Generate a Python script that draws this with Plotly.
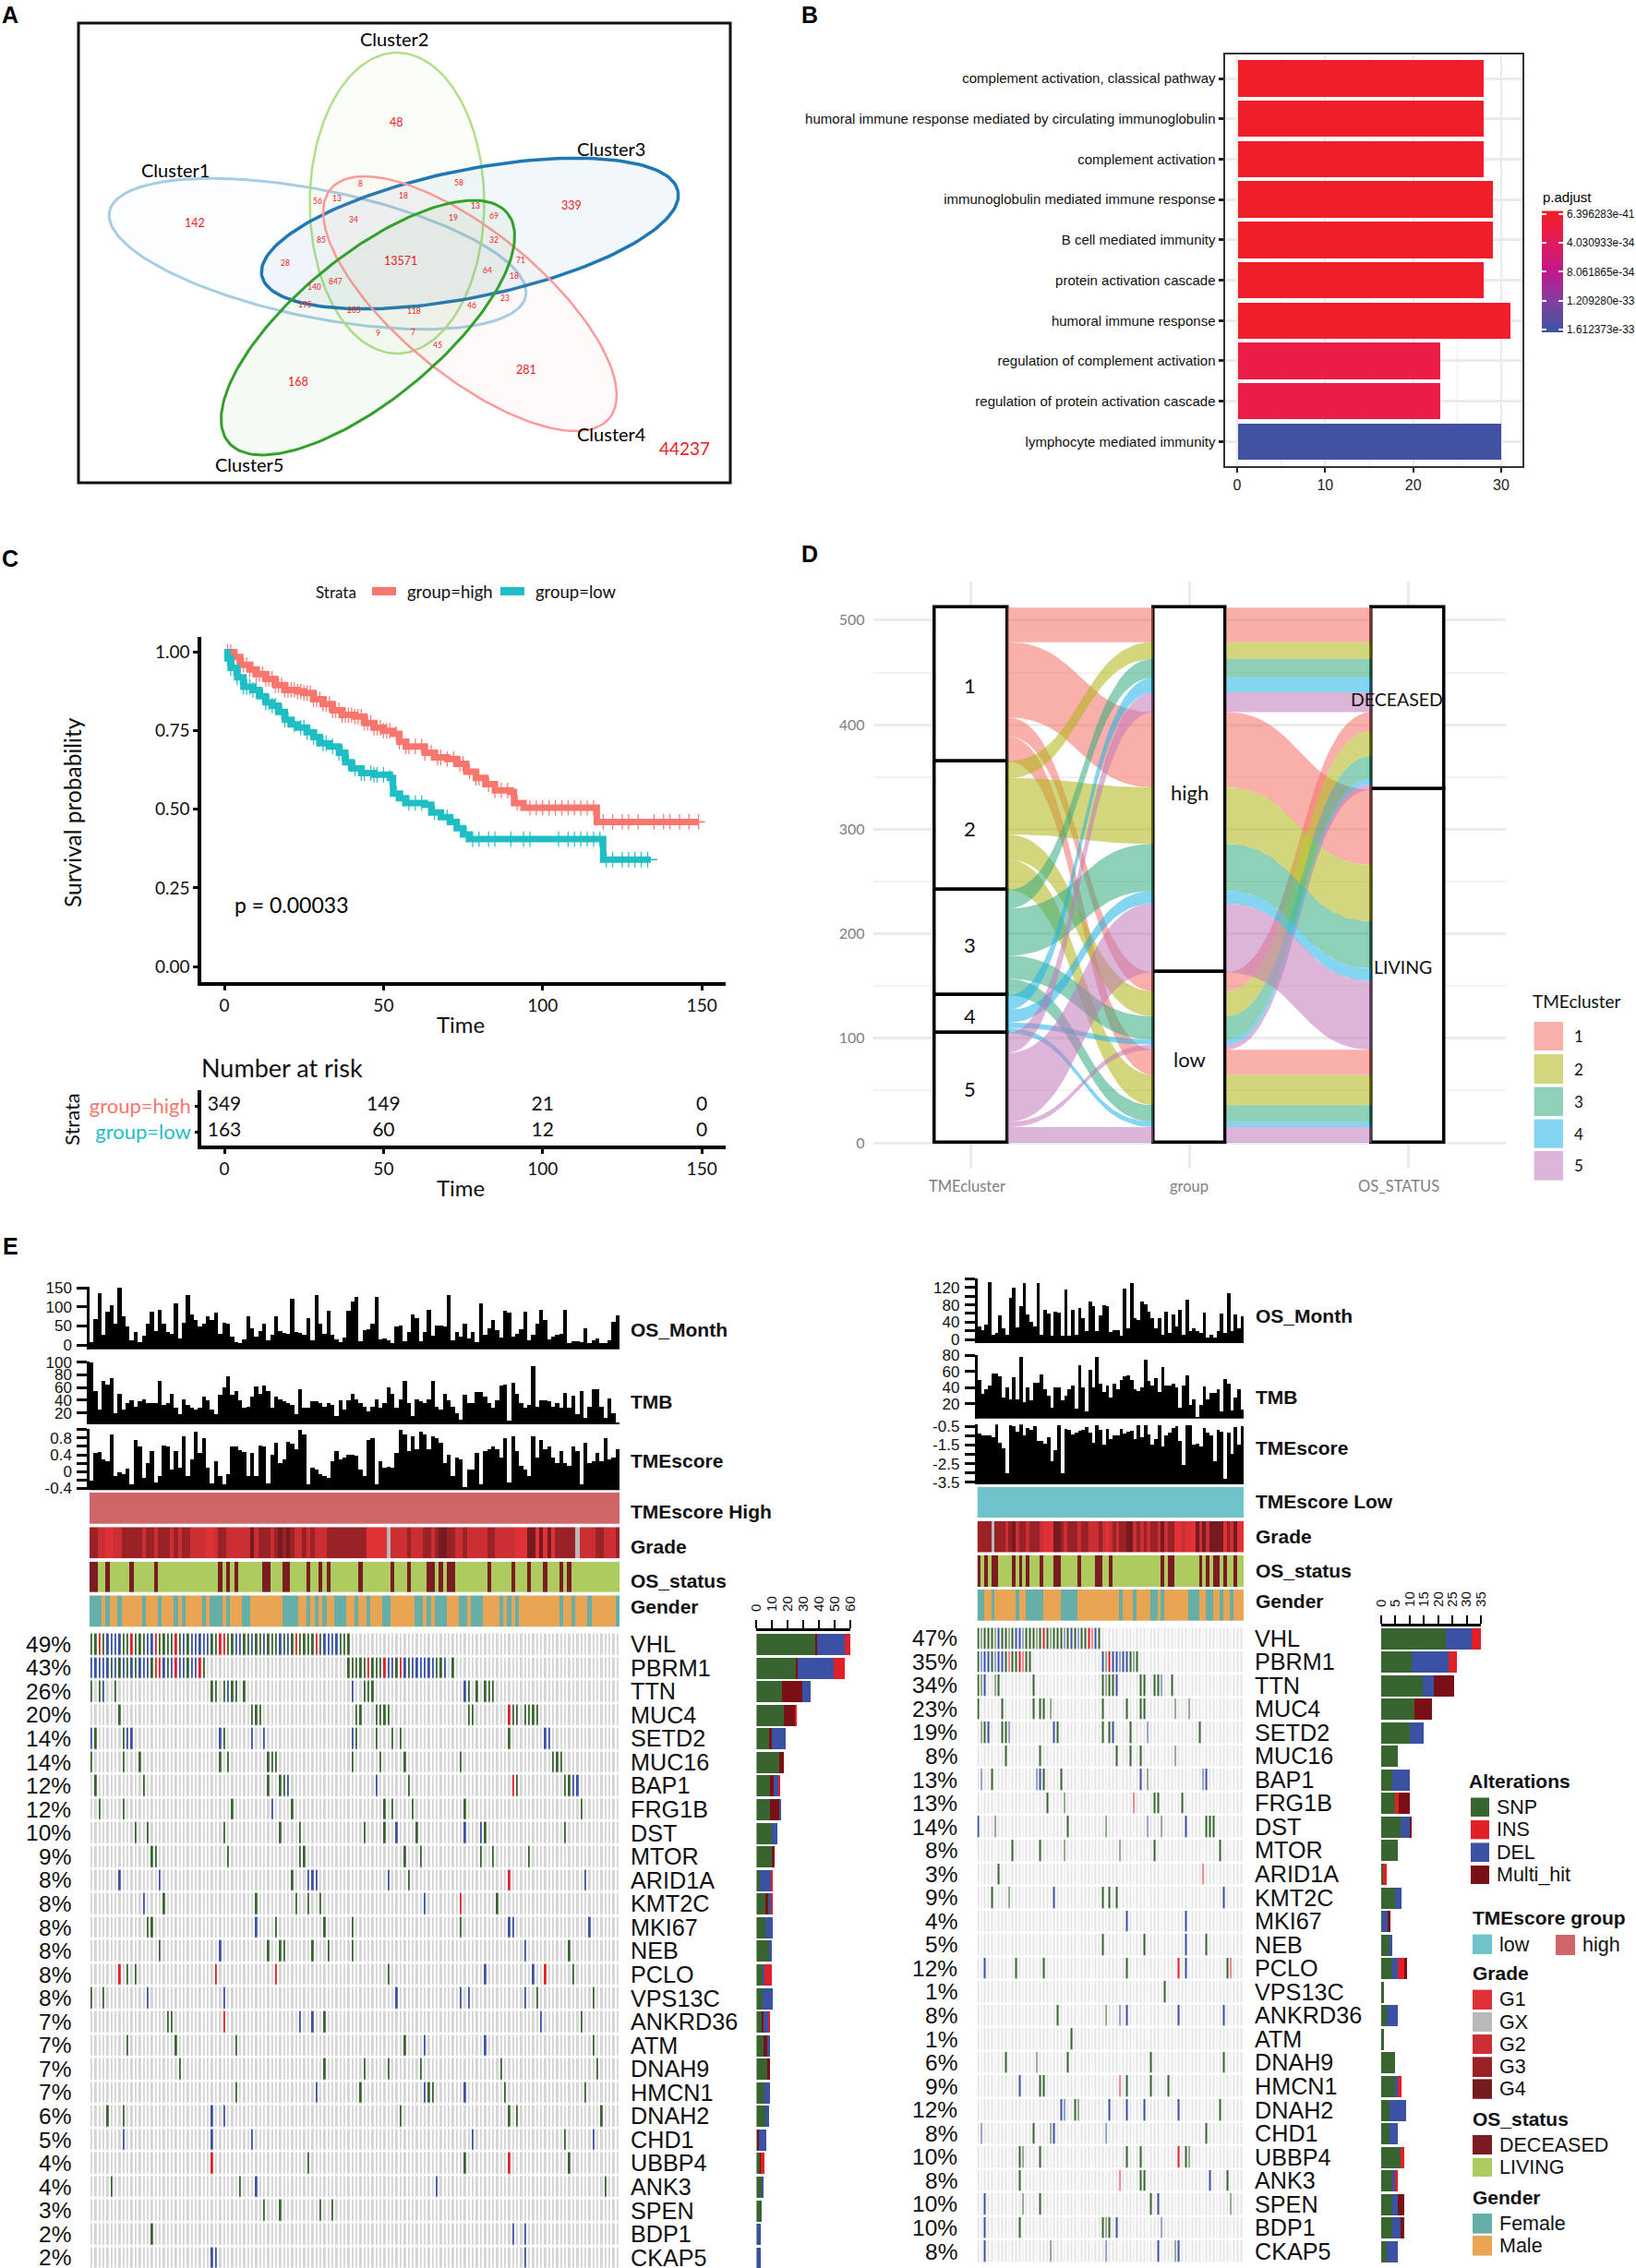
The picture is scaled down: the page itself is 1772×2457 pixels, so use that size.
import math
import plotly.graph_objects as go

W, H = 1772, 2457
ARIAL = "Liberation Sans"
MYR = "Lato"

# ---------------- panel A data
venn_names = ["Cluster1", "Cluster2", "Cluster3", "Cluster4", "Cluster5"]
venn_colors = ["166,206,227", "178,223,138", "31,120,180", "251,154,153", "51,160,44"]
venn_big = ["48", "339", "142", "13571", "281", "168"]
venn_small = ["8", "58", "56", "13", "18", "13", "34", "19", "69", "85", "32", "28", "71", "64", "18",
              "847", "140", "195", "23", "205", "118", "46", "9", "7", "45"]
venn_outside = "44237"

# ---------------- panel B data
go_terms = ["complement activation, classical pathway",
            "humoral immune response mediated by circulating immunoglobulin",
            "complement activation", "immunoglobulin mediated immune response",
            "B cell mediated immunity", "protein activation cascade", "humoral immune response",
            "regulation of complement activation", "regulation of protein activation cascade",
            "lymphocyte mediated immunity"]
go_counts = [28, 28, 28, 29, 29, 28, 31, 23, 23, 30]
go_padj = [6.4e-41, 2e-38, 4e-38, 1e-37, 3e-37, 8e-36, 1e-36, 2.2e-34, 2.2e-34, 1.612373e-33]
padj_ticks = [6.396283e-41, 4.030933e-34, 8.061865e-34, 1.209280e-33, 1.612373e-33]
padj_labels = ["6.396283e-41", "4.030933e-34", "8.061865e-34", "1.209280e-33", "1.612373e-33"]

# ---------------- panel C data
km_high_t = [0, 3, 5, 8, 10, 13, 16, 19, 23, 25, 28, 31, 34, 37, 41, 44, 47, 50, 53, 55, 57, 61, 63, 66, 70, 73, 76, 79,
             82, 85, 90, 91, 94, 117, 149, 151]
km_high_s = [1, .985, .96, .945, .93, .915, .895, .88, .875, .87, .85, .835, .815, .8, .795, .775, .76, .75, .74, .715,
             .7, .7, .68, .665, .66, .645, .62, .6, .58, .56, .555, .52, .505, .46, .46, .46]
km_low_t = [0, 1, 2, 4, 6, 9, 11, 13, 15, 17, 19, 21, 23, 26, 28, 30, 33, 36, 38, 40, 43, 47, 52, 53, 55, 57, 63, 65, 68,
            71, 73, 75, 77, 119, 134, 136]
km_low_s = [1, .98, .95, .92, .89, .88, .86, .84, .83, .81, .785, .77, .76, .745, .73, .71, .7, .68, .65, .63, .615,
            .61, .6, .55, .535, .52, .515, .49, .475, .46, .44, .42, .405, .34, .34, .34]
cens_high = [1, 2, 3, 4, 5, 6, 7, 8, 9, 10, 11, 12, 13, 14, 15, 16, 17, 18, 19, 20, 21, 22, 23, 24, 25, 26, 27, 28, 29,
             30, 31, 32, 33, 34, 35, 36, 37, 38, 39, 40, 41, 42, 43, 44, 45, 46, 47, 48, 49, 50, 51, 52, 54, 55, 57, 58,
             60, 62, 63, 65, 67, 68, 70, 72, 74, 75, 77, 79, 80, 83, 85, 87, 89, 92, 96, 98, 100, 102, 104, 106, 108,
             110, 112, 114, 116, 119, 122, 125, 127, 130, 135, 138, 140, 143, 146, 149]
cens_low = [1, 2, 3, 4, 5, 6, 7, 8, 9, 10, 12, 13, 14, 15, 16, 18, 19, 20, 22, 24, 25, 26, 28, 29, 31, 32, 34, 36, 37, 39,
            41, 43, 44, 46, 47, 48, 50, 52, 54, 56, 58, 60, 62, 66, 70, 76, 78, 80, 83, 85, 90, 94, 96, 105, 108, 110,
            112, 114, 116, 118, 120, 122, 125, 127, 129, 131, 133]
risk_times = [0, 50, 100, 150]
risk_high = ["349", "149", "21", "0"]
risk_low = ["163", "60", "12", "0"]

# ---------------- panel D data (clusters 1..5)
alluv_high_dec = [33, 16, 18, 14, 19]
alluv_high_liv = [72, 54, 45, 12, 66]
alluv_low_dec = [18, 24, 22, 5, 5]
alluv_low_liv = [24, 29, 16, 5, 15]

# ---------------- panel E data
genes_left = ["VHL", "PBRM1", "TTN", "MUC4", "SETD2", "MUC16", "BAP1", "FRG1B", "DST", "MTOR", "ARID1A", "KMT2C", "MKI67",
              "NEB", "PCLO", "VPS13C", "ANKRD36", "ATM", "DNAH9", "HMCN1", "DNAH2", "CHD1", "UBBP4", "ANK3", "SPEN",
              "BDP1", "CKAP5"]
pct_left = [49, 43, 26, 20, 14, 14, 12, 12, 10, 9, 8, 8, 8, 8, 8, 8, 7, 7, 7, 7, 6, 5, 4, 4, 3, 2, 2]
pct_right = [47, 35, 34, 23, 19, 8, 13, 13, 14, 8, 3, 9, 4, 5, 12, 1, 8, 1, 6, 9, 12, 8, 10, 8, 10, 10, 8]

os_left = [8, 68, 135, 28, 88, 105, 55, 150, 75, 48,
           12, 35, 8, 25, 55, 88, 38, 92, 55, 35,
           30, 110, 18, 58, 130, 80, 65, 48, 55, 75,
           65, 85, 30, 58, 55, 22, 8, 5, 14, 75,
           45, 22, 38, 55, 12, 28, 75, 38, 32, 30,
           120, 35, 32, 28, 70, 12, 130, 55, 30, 90,
           28, 15, 8, 20, 90, 115, 125, 10, 40, 42,
           55, 125, 15, 18, 12, 5, 50, 52, 10, 35,
           80, 70, 10, 35, 92, 25, 52, 52, 48, 130,
           12, 35, 22, 55, 18, 35, 8, 108, 28, 45,
           65, 40, 20, 90, 85, 22, 30, 42, 88, 12,
           28, 55, 92, 65, 15, 22, 28, 30, 93, 5,
           10, 10, 8, 45, 6, 12, 18, 5, 5, 12,
           62, 78]
tmb_left = [100, 55, 25, 70, 65, 75, 20, 50, 25, 35,
            40, 30, 38, 42, 35, 35, 35, 70, 32, 35,
            50, 28, 18, 42, 32, 28, 26, 28, 45, 40,
            25, 18, 48, 60, 78, 48, 55, 40, 28, 30,
            45, 62, 50, 63, 55, 28, 45, 42, 38, 35,
            32, 18, 58, 28, 28, 38, 38, 36, 30, 35,
            32, 15, 40, 25, 40, 50, 42, 35, 30, 22,
            30, 42, 28, 35, 60, 50, 28, 42, 70, 35,
            15, 42, 38, 35, 42, 70, 30, 25, 50, 40,
            30, 20, 10, 48, 35, 35, 53, 53, 45, 35,
            28, 40, 63, 65, 8, 67, 50, 35, 28, 32,
            93, 30, 40, 40, 38, 30, 35, 28, 52, 28,
            47, 18, 55, 12, 30, 58, 57, 30, 12, 43,
            20, 5]
score_left = [-.2, .45, .47, .3, .25, .9, -.1, -.02, -.05, .08,
              -.3, .75, .6, -.15, .2, .5, -.25, -.1, .62, .6,
              .05, .5, .1, .85, -.1, .3, .95, .45, .8, .1,
              -.28, .25, -.1, -.3, -.05, .6, .6, .52, .48, -.1,
              .45, -.1, .62, .6, -.28, .4, .7, .2, .3, .72,
              .68, .55, 1.0, .9, -.3, .1, .05, -.05, -.1, -.15,
              .25, .5, .3, .35, .4, .4, .38, .05, -.1, .75,
              .8, -.3, .25, .1, .12, .1, .45, 1.0, .9, .5,
              .85, .55, .95, .9, .55, .85, .8, .7, .2, .4,
              -.1, .35, .3, -.35, .05, .05, .45, -.3, .5, .55,
              .6, .55, .35, .8, -.25, .85, .5, .15, .05, -.1,
              .85, .35, .75, .55, .6, .35, .2, .5, .2, .15,
              .6, .5, -.3, .7, .2, .25, .45, .25, .8, .3,
              .35, .55]
os_right = [30, 22, 35, 133, 10, 15, 55, 25, 10, 97,
            120, 27, 78, 130, 58, 40, 30, 130, 10, 68,
            60, 8, 65, 63, 8, 115, 8, 68, 10, 72,
            50, 20, 88, 78, 20, 55, 80, 78, 18, 22,
            22, 8, 118, 25, 130, 50, 45, 87, 82, 65,
            50, 25, 50, 10, 65, 15, 58, 30, 68, 10,
            93, 20, 25, 20, 15, 62, 5, 10, 5, 20,
            60, 15, 107, 20, 57, 25, 53]
tmb_right = [50, 32, 38, 42, 58, 58, 54, 28, 40, 25,
             53, 25, 78, 22, 40, 24, 46, 46, 56, 38,
             30, 15, 40, 40, 24, 30, 38, 42, 14, 68,
             40, 10, 62, 40, 78, 45, 35, 42, 28, 45,
             38, 50, 54, 55, 50, 38, 36, 40, 75, 48,
             42, 52, 35, 65, 42, 42, 45, 40, 15, 42,
             55, 18, 25, 3, 18, 41, 25, 33, 33, 38,
             10, 51, 45, 12, 28, 38, 13]
score_right = [-.9, -1, -1, -1, -1.1, -.4, -1.4, -1.7, -3.0, -.45,
               -.5, -.8, -.4, -1, -.6, -.7, -.5, -1.3, -1.3, -1.45,
               -1.1, -2.4, -1.8, -.45, -3.0, -.65, -.7, -.95, -.85, -.75,
               -.7, -.55, -.85, -1.4, -.45, -.7, -1.5, -.65, -1.2, -1,
               -1, -.65, -.9, -.8, -.75, -1.2, -.45, -1.1, -.45, -.95,
               -1.5, -1.2, -.45, -1.6, -1, -.85, -.6, -.5, -1.3, -2.6,
               -.45, -.45, -1.5, -1.45, -1.6, -.6, -.85, -1, -2.4, -.7,
               -.8, -3.3, -.85, -2, -.55, -1.5, -.5]

grade_left = [3, 3, 2, 2, 1, 1, 2, 2, 3, 3,
              3, 3, 3, 2, 3, 3, 2, 3, 3, 3,
              2, 3, 2, 3, 3, 2, 2, 2, 2, 1,
              1, 2, 3, 3, 2, 2, 2, 2, 2, 2,
              4, 2, 3, 3, 3, 2, 3, 4, 3, 4,
              3, 2, 2, 3, 2, 3, 2, 2, 2, 3,
              3, 3, 3, 3, 3, 3, 3, 3, 3, 1,
              1, 1, 1, 1, 0, 2, 2, 2, 2, 3,
              2, 2, 2, 3, 3, 2, 3, 4, 4, 3,
              3, 2, 2, 3, 2, 2, 2, 2, 2, 3,
              3, 2, 2, 2, 2, 2, 1, 1, 1, 4,
              4, 1, 4, 1, 4, 1, 3, 3, 3, 3,
              3, 0, 2, 2, 2, 2, 3, 3, 2, 2,
              2, 3]
grade_right = [3, 3, 3, 3, 0, 3, 3, 3, 2, 3,
               4, 2, 3, 3, 2, 3, 3, 3, 2, 1,
               1, 1, 4, 4, 3, 2, 3, 3, 3, 2,
               3, 3, 2, 2, 2, 3, 2, 1, 2, 3,
               2, 3, 3, 4, 4, 2, 3, 2, 3, 2,
               3, 3, 2, 4, 2, 3, 3, 1, 1, 2,
               1, 1, 1, 4, 2, 4, 2, 4, 4, 4,
               4, 1, 3, 2, 4, 1, 1]
deceased_left = [0, 1, 4, 10, 16, 32, 34, 36, 43, 44, 48, 49, 54, 57, 59, 67, 75, 79, 84, 85, 87, 89, 90, 99, 105, 109, 113,
                 117, 119]
deceased_right = [0, 2, 4, 5, 10, 12, 14, 18, 22, 23, 29, 34, 35, 38, 53, 55, 56, 64, 66, 68, 69, 71, 74]
female_left = [0, 1, 2, 4, 7, 13, 17, 21, 23, 28, 30, 31, 32, 34, 38, 39, 48, 49, 50, 51, 54, 56, 58, 61, 62, 63, 66, 69,
               73, 74, 81, 82, 84, 86, 87, 88, 92, 93, 95, 96, 97, 102, 104, 106, 117, 120, 124, 131]
female_right = [0, 1, 4, 11, 14, 15, 16, 17, 18, 24, 25, 26, 27, 28, 41, 45, 50, 51, 53, 61, 62, 63, 66, 67, 70, 73]

# mutated samples per gene: one list per gene, in gene order
del_left = [[4, 5, 6, 7, 14, 15, 23, 25, 26, 27, 28, 29, 36, 37, 40, 43, 47, 49, 58, 59, 60, 61],
            [0, 1, 2, 3, 4, 6, 8, 10, 12, 13, 14, 18, 20, 22, 23, 25, 26, 74, 75, 78, 80, 81, 82, 83, 84, 85, 88],
            [3, 34, 65, 93], [], [0, 9, 10, 32, 40, 43, 65, 113, 114], [], [49, 71, 120, 121], [45], [76, 93, 97],
            [], [7, 17, 54, 55, 56, 74, 123], [13, 83], [41, 104, 105, 124], [32, 108], [98, 110],
            [14, 33, 76, 92, 94, 108], [52, 55, 112], [83, 98], [], [56, 83, 93], [30, 33], [8, 30, 40, 95, 125], [],
            [41, 86], [], [105, 108], [30, 31, 108]]
ins_left = [[2, 10, 16, 21, 32, 33, 51, 56], [16, 17, 21, 27, 69, 73, 77], [], [104], [], [], [105], [], [], [], [104],
            [92], [], [], [7, 31, 46, 113], [], [33], [], [], [], [], [], [30, 104], [], [], [], []]
snp_left = [[0, 1, 3, 8, 9, 11, 12, 13, 17, 18, 19, 20, 22, 24, 30, 31, 34, 35, 38, 39, 41, 42, 44, 45, 46, 48, 50, 52, 53,
             54, 55, 57, 62, 63, 64],
            [5, 7, 9, 11, 15, 19, 24, 28, 64, 65, 66, 67, 68, 70, 71, 72, 76, 79, 86, 87, 90],
            [0, 2, 6, 30, 31, 33, 35, 36, 38, 68, 69, 70, 94, 96, 98, 99, 100],
            [7, 40, 41, 42, 66, 67, 71, 72, 73, 74, 94, 95, 105, 106, 108, 109, 110, 111],
            [1, 8, 33, 66, 71, 75, 77, 104], [0, 8, 12, 32, 34, 44, 45, 46, 65, 72, 78, 92, 115, 116, 117],
            [1, 13, 44, 47, 48, 79, 106, 118, 119], [2, 8, 35, 50, 73, 75, 80, 93, 122],
            [11, 14, 33, 47, 52, 68, 73, 81, 98, 118], [15, 16, 34, 52, 53, 78, 82, 97, 100, 109],
            [50, 79], [18, 41, 51, 54, 57, 101], [14, 15, 46, 58, 65, 92], [17, 44, 47, 48, 55, 59, 65, 119],
            [9, 11, 74, 120], [0, 3, 111, 125], [19, 20, 58, 122], [9, 21, 36, 78, 125],
            [22, 58, 68, 74, 82, 102, 126], [36, 67, 84, 85, 103, 123], [4, 8, 77, 104, 106, 127], [118],
            [54, 93, 119], [5, 37, 128], [43, 47, 57, 60], [15], []]
del_right = [[6, 11, 12, 13, 25, 27, 29, 34], [1, 2, 3, 5, 6, 7, 36, 39, 40, 41, 42, 43], [2, 40, 53], [],
             [3, 9, 22, 39, 49], [], [1, 17, 18, 47, 65, 66], [], [0, 49, 60], [], [], [22, 71], [43, 60], [60],
             [2, 60], [], [41, 43, 58, 71], [], [], [12], [24, 25, 38, 43, 48, 58], [1, 22, 37], [], [67],
             [2, 52], [2, 40, 53], [2, 37, 52, 58]]
ins_right = [[19, 32, 33], [9, 12, 13, 38], [], [], [], [], [], [45], [], [], [65], [], [], [], [58, 73], [], [], [],
             [], [41], [], [], [58], [41], [], [], []]
snp_right = [[0, 1, 2, 3, 4, 5, 7, 8, 9, 10, 14, 15, 16, 17, 18, 20, 21, 22, 23, 24, 26, 28, 30, 31, 35],
             [0, 4, 8, 10, 11, 14, 15, 37, 44, 45, 46],
             [0, 1, 5, 6, 16, 36, 37, 38, 39, 47, 48, 51, 52, 56],
             [0, 7, 16, 18, 19, 21, 36, 43, 47, 48, 57, 61],
             [1, 2, 7, 8, 23, 36, 38, 44, 64], [8, 18, 40, 44, 47, 57], [4, 19, 24, 49],
             [20, 25, 51, 52, 59], [5, 26, 37, 53, 66, 67, 68], [10, 18, 25, 41, 51, 70], [6],
             [4, 9, 36, 38, 40], [], [36, 48, 66], [11, 19, 43, 72], [54], [23, 37], [27],
             [8, 17, 26, 50, 71], [18, 19, 43, 50, 55], [28, 29, 70], [16, 21, 66],
             [12, 13, 18, 43, 47, 60, 61], [12, 47, 48, 72], [13, 18, 50, 73], [12, 36, 37, 38], [21, 57]]

# side bars: mutation counts per gene by type
bar_snp_left = [38, 25.7, 16.5, 18, 8, 15, 9, 9, 10, 10, 2.5, 6, 6, 8, 4, 4, 4, 5, 7, 5.5, 6, .5, 2.5, 3.5, 3.5, .3, 0]
bar_multi_left = [1, 1, 13, 7, 2, 3, 2, 6, 0, 2, 0, 1.5, 0, 0, 0, 0, .7, 2, 2, 0, 0, 1.2, .7, 0, 0, 0, 0]
bar_del_left = [17.5, 23, 5.5, 0, 9, 0, 3.5, 1, 3.5, 0, 7, 2, 4.5, 2, 1.5, 6.5, 3, 2, 0, 3.5, 2, 5, 0, 1.5, 0, 2.7, 3]
bar_ins_left = [8, 7, 0, .8, 0, 0, 1, 0, 0, 0, 1, 1, 0, 0, 4.5, 0, .8, 0, 0, 0, 0, 0, 2, 0, 0, 0, 0]
bar_snp_right = [22.8, 10.7, 14.6, 11.7, 9.9, 5.9, 3.9, 4.8, 6.8, 5.9, .5, 4.8, .2, 2.9, 3.9, 1, 1.9, 1, 4.9, 4.8, 2.9,
                 2.9, 6.8, 3.9, 3.9, 3.9, 1.9]
bar_del_right = [8.8, 13, 4, 0, 4.9, 0, 6, 0, 3.2, 0, 0, 2.2, 2, 1, 1.9, 0, 4, 0, 0, 1, 6, 3, 0, 1, 1.9, 2.9, 4]
bar_ins_right = [3.4, 2.9, 0, 0, 0, 0, 0, 1.2, 0, 0, 1.5, 0, 0, 0, 2.2, 0, 0, 0, 0, 1.2, 0, 0, 1.2, 1, 0, 0, 0]
bar_multi_right = [.7, 0, 7, 6, 0, 0, 0, 4, .8, 0, 0, 0, 1, 0, 1, 0, 0, 0, 0, 0, 0, 0, 0, 0, 2.2, 1.2, 0]

# ---------------- colours
C_SNP, C_INS, C_DEL, C_MULTI = "#386430", "#e11f26", "#3b51a3", "#7a1015"
C_LOW, C_HIGH = "#6fc3cb", "#cf6567"
GRADE_COL = ["#b9b9b9", "#e03136", "#cc2f33", "#9a2226", "#751a1e"]
C_DEC, C_LIV = "#7a1c22", "#aecb5f"
C_F, C_M = "#65afa8", "#e8a655"
KM_HIGH, KM_LOW = "#F8766D", "#1FBEC4"
ALLUV_RGB = ["244,111,102", "177,180,19", "51,171,126", "30,179,231", "193,120,184"]
ALLUV_SOLID = ["#f9b0ab", "#d4d67d", "#8fd1b8", "#83d5f2", "#ddb5d8"]
PADJ_SCALE = [[0, "#ee2024"], [.15, "#ec1c44"], [.5, "#c2188c"], [.75, "#80409e"], [1, "#3b54a4"]]

fig = go.Figure()
layout_axes = {}
annots = []
shapes = []
counter = [0]


def axes(px0, px1, py0, py1, xa, ya):
    counter[0] += 1
    n = counter[0]
    s = "" if n == 1 else str(n)
    base = dict(showgrid=False, zeroline=False, showline=False, ticks="", showticklabels=False)
    xd = dict(base); xd.update(xa)
    yd = dict(base); yd.update(ya)
    xd.update(domain=[px0 / W, px1 / W], anchor="y" + s)
    yd.update(domain=[1 - py1 / H, 1 - py0 / H], anchor="x" + s)
    layout_axes["xaxis" + s] = xd
    layout_axes["yaxis" + s] = yd
    return "x" + s, "y" + s


def T(x, y, text, size, color="black", family=ARIAL, anchor="left", angle=0, bold=False):
    annots.append(dict(x=x / W, y=1 - y / H, xref="paper", yref="paper", text="<b>%s</b>" % text if bold else text,
                       showarrow=False, xanchor=anchor, yanchor="middle", borderpad=0, borderwidth=0,
                       textangle=angle, font=dict(size=size, color=color, family=family)))


def R(x0, y0, x1, y1, fill, line=None, lw=0):
    shapes.append(dict(type="rect", xref="paper", yref="paper", x0=x0 / W, x1=x1 / W, y0=1 - y0 / H, y1=1 - y1 / H,
                       fillcolor=fill, line=dict(color=line or fill, width=lw), layer="above"))


# ---------------- panel letters
for lab, lx, ly in [("A", 2, 16), ("B", 868, 16), ("C", 2, 605), ("D", 868, 600), ("E", 3, 1350)]:
    T(lx, ly, lab, 25, bold=True)

# ---------------- A: Venn
cx, cy = axes(0, W, 0, H, dict(range=[0, W]), dict(range=[H, 0]))
R(85, 25, 791, 523, "rgba(0,0,0,0)", "#111", 3)
venn_geom = [(344, 275, 230, 69, -11.5), (430, 220, 163, 94.5, 90), (509, 253, 230, 69, 11.5),
             (509, 329, 195.5, 78, -39.4), (398.5, 355, 195.5, 78, 39.4)]
venn_alpha = [.03, .05, .06, .05, .05]
venn_lw = [3, 2.5, 3.5, 2.5, 3]
for i, (ex, ey, ea, eb, ang) in enumerate(venn_geom):
    th = math.radians(ang)
    xs, ys = [], []
    for k in range(181):
        t = 2 * math.pi * k / 180
        u, v = ea * math.cos(t), eb * math.sin(t)
        xs.append(ex + u * math.cos(th) + v * math.sin(th))
        ys.append(ey - u * math.sin(th) + v * math.cos(th))
    fig.add_trace(go.Scatter(x=xs, y=ys, mode="lines", fill="toself", xaxis=cx, yaxis=cy, hoverinfo="skip",
                             fillcolor="rgba(%s,%.2f)" % (venn_colors[i], venn_alpha[i]),
                             line=dict(color="rgb(%s)" % venn_colors[i], width=venn_lw[i])))
for name, (zx, zy) in zip(venn_names, [(347, 514), (778, 118), (1207, 452), (1207, 1317), (492, 1407)]):
    T(zx / 1.823, zy / 2.8, name, 20, family=MYR, anchor="center")
big_pos = [(783, 370), (1129, 624), (385, 677), (792, 792), (1039, 1122), (588, 1158)]
for s, (zx, zy) in zip(venn_big, big_pos):
    T(zx / 1.823, zy / 2.8, s, 12.5, "#ed1c24", MYR, "center")
small_pos = [(712, 558), (906, 554), (628, 609), (666, 603), (797, 593), (938, 624), (698, 666), (895, 662), (975, 654),
             (634, 729), (975, 727), (563, 797), (1028, 791), (963, 821), (1016, 836), (662, 853), (620, 872),
             (602, 925), (997, 905), (700, 940), (817, 945), (932, 927), (746, 1012), (815, 1008), (864, 1048)]
for s, (zx, zy) in zip(venn_small, small_pos):
    T(zx / 1.823, zy / 2.8, s, 8.5, "#ed1c24", MYR, "center")
T(1352 / 1.823, 1358 / 2.8, venn_outside, 19, "#ed1c24", MYR, "center")

# ---------------- B: GO bars
x0 = (1326.5 - 1340) / 9.533
x1 = (1649 - 1340) / 9.533
bx, by = axes(1326.5, 1649, 59, 504.6,
              dict(range=[x0, x1], showgrid=True, gridcolor="#ebebeb", gridwidth=1.5, tickvals=[0, 10, 20, 30],
                   showticklabels=True, ticks="outside", ticklen=5, tickwidth=2, tickcolor="#222",
                   tickfont=dict(size=16, family=ARIAL, color="#222"),
                   minor=dict(showgrid=True, tickvals=[5, 15, 25], gridcolor="#f0f0f0", gridwidth=1, ticks=""),
                   showline=True, mirror=True, linecolor="#333", linewidth=2),
              dict(range=[9.6, -.595], type="linear", showgrid=True, gridcolor="#ebebeb", gridwidth=3,
                   tickvals=list(range(10)), ticktext=go_terms, showticklabels=True, ticks="outside", ticklen=5,
                   tickwidth=3, tickcolor="#222", tickfont=dict(size=15, family=ARIAL, color="#111"),
                   showline=True, mirror=True, linecolor="#333", linewidth=2))
CMIN, CMAX = -4.3e-35, 1.651e-33
fig.add_trace(go.Bar(x=go_counts, y=list(range(10)), orientation="h", width=.9, xaxis=bx, yaxis=by, hoverinfo="skip",
                     marker=dict(color=go_padj, cmin=CMIN, cmax=CMAX, line=dict(width=0), colorscale=PADJ_SCALE)))
# gradient key of the p.adjust scale, values shown in units of 1e-33
ramp = [(CMIN + (CMAX - CMIN) * k / 79) * 1e33 for k in range(80)]
kbx, kby = axes(1670, 1693, 228.6, 360, dict(range=[0, 1]),
                dict(range=[CMAX * 1e33, CMIN * 1e33], side="right", tickvals=[v * 1e33 for v in padj_ticks],
                     ticktext=padj_labels, showticklabels=True, ticks="inside", ticklen=5, tickwidth=1.5, tickcolor="white",
                     mirror="ticks", ticklabelstandoff=3, ticklabeloverflow="allow",
                     tickfont=dict(size=11.9, family=ARIAL, color="#111")))
fig.add_trace(go.Heatmap(z=[[v] for v in ramp], y=ramp, x=[.5], xaxis=kbx, yaxis=kby, zmin=CMIN * 1e33, zmax=CMAX * 1e33,
                         colorscale=PADJ_SCALE, showscale=False, hoverinfo="skip"))
T(1671, 213, "p.adjust", 15)

# ---------------- C: KM


def step_at(ts, ss, t):
    v = ss[0]
    for a, b in zip(ts, ss):
        if a <= t:
            v = b
    return v


kx, ky = axes(218, 786, 689.5, 1063.7,
              dict(range=[-7.25, 157.5], tickvals=risk_times, showticklabels=True, ticks="outside", ticklen=6, tickwidth=2.5,
                   tickcolor="black", showline=True, linecolor="black", linewidth=3.5,
                   tickfont=dict(size=19, family=MYR, color="#111")),
              dict(range=[-.049, 1.05], tickvals=[0, .25, .5, .75, 1], ticktext=["0.00", "0.25", "0.50", "0.75", "1.00"],
                   showticklabels=True, ticks="outside", ticklen=5, tickwidth=2.5, tickcolor="black", showline=True,
                   linecolor="black", linewidth=3.5, tickfont=dict(size=19, family=MYR, color="#111")))
for ts, ss, cs, col in [(km_high_t, km_high_s, cens_high, KM_HIGH), (km_low_t, km_low_s, cens_low, KM_LOW)]:
    fig.add_trace(go.Scatter(x=ts[:-1], y=ss[:-1], mode="lines", line=dict(shape="hv", color=col, width=7),
                             xaxis=kx, yaxis=ky, hoverinfo="skip"))
    fig.add_trace(go.Scatter(x=ts[-2:], y=ss[-2:], mode="lines", line=dict(color=col, width=1.5),
                             xaxis=kx, yaxis=ky, hoverinfo="skip"))
    fig.add_trace(go.Scatter(x=cs, y=[step_at(ts, ss, t) for t in cs], mode="markers", xaxis=kx, yaxis=ky,
                             marker=dict(symbol="line-ns", size=12, line=dict(color=col, width=1.2)), hoverinfo="skip"))
T(254, 980, "p = 0.00033", 23, family=MYR)
T(499, 1110, "Time", 24, family=MYR, anchor="center", color="#111")
T(78, 880, "Survival probability", 24.5, family=MYR, anchor="center", angle=-90, color="#111")
T(342, 641, "Strata", 17, family=MYR, color="#111")
R(403, 636, 429, 645, KM_HIGH)
R(542, 636, 568, 645, KM_LOW)
T(441, 641, "group=high", 18.5, family=MYR, color="#111")
T(580, 641, "group=low", 18.5, family=MYR, color="#111")

rx, ry = axes(218, 786, 1181, 1240.5,
              dict(range=[-7.25, 157.5], tickvals=risk_times, showticklabels=True, ticks="outside", ticklen=6, tickwidth=2.5,
                   tickcolor="black", showline=True, linecolor="black", linewidth=3.5,
                   tickfont=dict(size=19, family=MYR, color="#111")),
              dict(range=[-.518, 1.607], tickvals=[1, 0], showticklabels=True, ticks="outside", ticklen=3, tickwidth=2.5,
                   tickcolor="black", showline=True, linecolor="black", linewidth=3.5,
                   ticktext=['<span style="color:%s">group=high</span>' % KM_HIGH,
                             '<span style="color:%s">group=low</span>' % KM_LOW],
                   tickfont=dict(size=22, family=MYR)))
for row, vals in [(1, risk_high), (0, risk_low)]:
    fig.add_trace(go.Scatter(x=risk_times, y=[row] * 4, mode="text", text=vals, xaxis=rx, yaxis=ry, hoverinfo="skip",
                             textposition="middle center", textfont=dict(size=21, family=MYR, color="#111"), cliponaxis=False))
T(218, 1156.5, "Number at risk", 27, family=MYR, color="#111")
T(77, 1213, "Strata", 22, family=MYR, anchor="center", angle=-90, color="#111")
T(499, 1286, "Time", 24, family=MYR, anchor="center", color="#111")

# ---------------- D: alluvial
dx, dy = axes(945.5, 1631, 630, 1266,
              dict(range=[.55, 3.448], tickvals=[1, 2, 3], showgrid=True, gridcolor="#ebebeb", gridwidth=3),
              dict(range=[-24.7, 537], tickvals=[0, 100, 200, 300, 400, 500], showgrid=True, gridcolor="#ebebeb",
                   gridwidth=3, showticklabels=True, tickfont=dict(size=16, family=MYR, color="#7f7f7f"),
                   minor=dict(showgrid=True, tickvals=[50, 150, 250, 350, 450], gridcolor="#f2f2f2", gridwidth=1.5,
                              ticks="")))
layout_axes[dy.replace("y", "yaxis")]["ticklabelstandoff"] = 8
flows = {"hD": alluv_high_dec, "hL": alluv_high_liv, "lD": alluv_low_dec, "lL": alluv_low_liv}
TOTAL = sum(sum(v) for v in flows.values())


def stack(order):
    top = TOTAL
    pos = {}
    for key, c in order:
        v = flows[key][c]
        pos[(key, c)] = (top, top - v)
        top -= v
    return pos


order1 = [(k, c) for c in range(5) for k in ("hD", "hL", "lD", "lL")]
order2 = [(k, c) for k in ("hD", "hL", "lD", "lL") for c in range(5)]
order3 = [(k, c) for k in ("hD", "lD", "hL", "lL") for c in range(5)]
p1, p2, p3 = stack(order1), stack(order2), stack(order3)
HW = 1 / 6


def ribbon(xa, xb, ya, yb, k=.5, n=32):
    out = []
    mx0, mx1 = xa + (xb - xa) * k, xb - (xb - xa) * k
    for j in range(n + 1):
        t = j / n
        m = 1 - t
        out.append((m ** 3 * xa + 3 * m * m * t * mx0 + 3 * m * t * t * mx1 + t ** 3 * xb,
                    m ** 3 * ya + 3 * m * m * t * ya + 3 * m * t * t * yb + t ** 3 * yb))
    return out


for pa, pb, xa, xb in [(p1, p2, 1 + HW, 2 - HW), (p2, p3, 2 + HW, 3 - HW)]:
    for (key, c) in order1:
        ta, ba = pa[(key, c)]
        tb, bb = pb[(key, c)]
        upper = ribbon(xa, xb, ta, tb)
        lower = ribbon(xa, xb, ba, bb)[::-1]
        pts = upper + lower
        fig.add_trace(go.Scatter(x=[q[0] for q in pts], y=[q[1] for q in pts], mode="lines", fill="toself", xaxis=dx,
                                 yaxis=dy, line=dict(width=0), fillcolor="rgba(%s,.55)" % ALLUV_RGB[c], hoverinfo="skip"))
strata_x, strata_base, strata_h = [], [], []
tme_sum = [sum(flows[k][c] for k in flows) for c in range(5)]
b = TOTAL
for c in range(5):
    b -= tme_sum[c]
    strata_x.append(1); strata_base.append(b); strata_h.append(tme_sum[c])
hi = sum(alluv_high_dec) + sum(alluv_high_liv)
strata_x += [2, 2]; strata_base += [TOTAL - hi, 0]; strata_h += [hi, TOTAL - hi]
de = sum(alluv_high_dec) + sum(alluv_low_dec)
strata_x += [3, 3]; strata_base += [TOTAL - de, 0]; strata_h += [de, TOTAL - de]
fig.add_trace(go.Bar(x=strata_x, y=strata_h, base=strata_base, width=1 / 3, xaxis=dx, yaxis=dy,
                     marker=dict(color="white", line=dict(color="black", width=3.5)), hoverinfo="skip"))
for s, px, py, sz in [("1", 1050, 743, 22), ("2", 1050, 897, 22), ("3", 1050, 1023, 22), ("4", 1050, 1100, 22),
                      ("5", 1050, 1180, 22), ("high", 1288, 858, 22), ("low", 1288, 1147, 22),
                      ("DECEASED", 1513, 757, 19.5), ("LIVING", 1519, 1047, 19.5)]:
    T(px, py, s, sz, family=MYR, anchor="center", color="#111")
for s, px in [("TMEcluster", 1047), ("group", 1288), ("OS_STATUS", 1515)]:
    T(px, 1285, s, 16.5, "#7f7f7f", MYR, "center")
T(1660, 1084, "TMEcluster", 19, family=MYR, color="#111")
for c, (ya, yb) in enumerate([(1107, 1138), (1142, 1174), (1177.6, 1209), (1212.5, 1243.7), (1247, 1278.6)]):
    R(1661.6, ya, 1693, yb, ALLUV_SOLID[c])
    T(1710, (ya + yb) / 2, str(c + 1), 17, family=MYR, color="#111", anchor="center")

# ---------------- E: tracks


def bar_axis(n, x0p, x1p, y0p, y1p, lo, hi_, tickvals, ticktext):
    return axes(x0p, x1p, y0p, y1p, dict(range=[-.5, n - .5]),
                dict(range=[lo, hi_], tickvals=tickvals, ticktext=ticktext, showticklabels=True, ticks="outside",
                     ticklen=11, tickwidth=2.5, tickcolor="black", showline=True, linecolor="black", linewidth=2.5,
                     ticklabelstandoff=2, tickfont=dict(size=17, family=ARIAL, color="#111")))


def draw_bars(ax, vals, lo):
    fig.add_trace(go.Bar(x=list(range(len(vals))), y=[v - lo for v in vals], base=lo, width=1, xaxis=ax[0], yaxis=ax[1],
                         marker=dict(color="black", line=dict(width=0)), hoverinfo="skip"))


def draw_track(n, x0p, x1p, y0p, y1p, z, scale, zmax):
    a = axes(x0p, x1p, y0p, y1p, dict(range=[-.5, n - .5]), dict(range=[-.5, .5]))
    fig.add_trace(go.Heatmap(z=[z], xaxis=a[0], yaxis=a[1], zmin=0, zmax=zmax, showscale=False, colorscale=scale,
                             hoverinfo="skip"))


def discrete(cols):
    n = len(cols)
    out = []
    for i, c in enumerate(cols):
        out += [[i / n, c], [(i + 1) / n, c]]
    return out


def onco(n, genes, snp, ins, dele, x0p, x1p, ytop, ytop_row, step, bg, gap):
    a = axes(x0p, x1p, ytop, H, dict(range=[-.5, n - .5]),
             dict(range=[(H - ytop_row) / step, (ytop - ytop_row) / step], tickvals=list(range(len(genes))), ticktext=genes,
                  showticklabels=True, side="right", ticklabelstandoff=11, ticklabeloverflow="allow",
                  tickfont=dict(size=25.2, family=ARIAL, color="#111")))
    z = [[0] * n for _ in genes]
    for code, table in [(1, snp), (2, ins), (3, dele)]:
        for row, idx in enumerate(table):
            for i in idx:
                z[row][i] = code
    fig.add_trace(go.Heatmap(z=z, xaxis=a[0], yaxis=a[1], zmin=0, zmax=4, showscale=False, xgap=gap, ygap=2.6,
                             x=list(range(n)), y=list(range(len(genes))), hoverinfo="skip",
                             colorscale=discrete([bg, C_SNP, C_INS, C_DEL, C_MULTI])))
    return a


N_L, N_R = len(os_left), len(os_right)
LX0, LX1, RX0, RX1 = 97, 671, 1058.5, 1347

# left
a = bar_axis(N_L, LX0, LX1, 1394, 1461.7, -10.6, 152.4, [0, 50, 100, 150], ["0", "50", "100", "150"])
draw_bars(a, os_left, -10.6)
a = bar_axis(N_L, LX0, LX1, 1475, 1543.3, 1.6, 100.9, [20, 40, 60, 80, 100], ["20", "40", "60", "80", "100"])
draw_bars(a, tmb_left, 1.6)
a = bar_axis(N_L, LX0, LX1, 1547.7, 1614.3, -.44, 1.024, [-.4, -.2, 0, .2, .4, .6, .8, 1.0],
             ["-0.4", "", "0", "", "0.4", "", "0.8", ""])
draw_bars(a, score_left, -.44)
draw_track(N_L, LX0, LX1, 1616.7, 1651, [1] * N_L, discrete([C_LOW, C_HIGH]), 1)
draw_track(N_L, LX0, LX1, 1654.3, 1688.3, grade_left, discrete(GRADE_COL), 4)
draw_track(N_L, LX0, LX1, 1691.7, 1725, [1 if i in deceased_left else 0 for i in range(N_L)], discrete([C_LIV, C_DEC]), 1)
draw_track(N_L, LX0, LX1, 1728.3, 1762.7, [1 if i in female_left else 0 for i in range(N_L)], discrete([C_M, C_F]), 1)
for s, py in [("OS_Month", 1440), ("TMB", 1518.3), ("TMEscore", 1582.7), ("TMEscore High", 1637.7), ("Grade", 1675),
              ("OS_status", 1712), ("Gender", 1740.7)]:
    T(683, py, s, 21, bold=True, color="#111")
oL = onco(N_L, genes_left, snp_left, ins_left, del_left, LX0, LX1, 1768.5, 1781.3, 25.56, "#d4d4d4", 2.2)
for i, p in enumerate(pct_left):
    annots.append(dict(x=79 / W, y=i, xref="paper", yref=oL[1], text="%d%%" % p, showarrow=False, xanchor="right",
                       yanchor="middle", font=dict(size=24.5, family=ARIAL, color="#111")))

# right
a = bar_axis(N_R, RX0, RX1, 1385, 1455, -8.57, 141.4, list(range(0, 141, 20)), ["0", "", "40", "", "80", "", "120", ""])
draw_bars(a, os_right, -8.57)
a = bar_axis(N_R, RX0, RX1, 1468, 1536.7, 1.5, 80.5, [20, 40, 60, 80], ["20", "40", "60", "80"])
draw_bars(a, tmb_right, 1.5)
a = bar_axis(N_R, RX0, RX1, 1543.3, 1608.3, -3.614, -.416, [-3.5, -3, -2.5, -2, -1.5, -1, -.5],
             ["-3.5", "", "-2.5", "", "-1.5", "", "-0.5"])
draw_bars(a, score_right, -3.614)
draw_track(N_R, RX0, RX1, 1610.7, 1644.3, [0] * N_R, discrete([C_LOW, C_HIGH]), 1)
draw_track(N_R, RX0, RX1, 1647.7, 1681.7, grade_right, discrete(GRADE_COL), 4)
draw_track(N_R, RX0, RX1, 1685, 1719, [1 if i in deceased_right else 0 for i in range(N_R)], discrete([C_LIV, C_DEC]), 1)
draw_track(N_R, RX0, RX1, 1721.7, 1756, [1 if i in female_right else 0 for i in range(N_R)], discrete([C_M, C_F]), 1)
for s, py in [("OS_Month", 1425), ("TMB", 1513.3), ("TMEscore", 1569), ("TMEscore Low", 1626.7), ("Grade", 1664),
              ("OS_status", 1701.3), ("Gender", 1734)]:
    T(1359.5, py, s, 21, bold=True, color="#111")
oR = onco(N_R, genes_left, snp_right, ins_right, del_right, RX0, RX1, 1763.5, 1774.7, 25.55, "#e4e4e4", 1.9)
for i, p in enumerate(pct_right):
    annots.append(dict(x=1039 / W, y=i, xref="paper", yref=oR[1], text="%d%%" % p, showarrow=False, xanchor="right",
                       yanchor="middle", font=dict(size=24.5, family=ARIAL, color="#111")))


def side(x0p, x1p, ytop, ytop_row, step, xmax, ticks, series):
    a = axes(x0p, x1p, ytop, H,
             dict(range=[0, xmax], side="top", tickvals=ticks, showticklabels=True, ticks="outside", ticklen=9,
                  tickwidth=2, tickcolor="black", showline=True, linecolor="black", linewidth=2.5, tickangle=-90,
                  ticklabelstandoff=6, tickfont=dict(size=15, family=ARIAL, color="#111")),
             dict(range=[(H - ytop_row) / step, (ytop - ytop_row) / step]))
    base = [0] * 27
    for vals, col in series:
        fig.add_trace(go.Bar(x=vals, y=list(range(27)), base=list(base), orientation="h", width=.9, xaxis=a[0], yaxis=a[1],
                             cliponaxis=False, marker=dict(color=col, line=dict(width=0)), hoverinfo="skip"))
        base = [p + q for p, q in zip(base, vals)]


side(819.4, 921, 1766.7, 1781.3, 25.56, 60, list(range(0, 61, 10)),
     [(bar_snp_left, C_SNP), (bar_multi_left, C_MULTI), (bar_del_left, C_DEL), (bar_ins_left, C_INS)])
side(1496, 1604, 1761.7, 1774.7, 25.55, 35, list(range(0, 36, 5)),
     [(bar_snp_right, C_SNP), (bar_del_right, C_DEL), (bar_ins_right, C_INS), (bar_multi_right, C_MULTI)])

# legends E
T(1591, 1930, "Alterations", 21, bold=True, color="#111")
for s, col, ya, yb in [("SNP", C_SNP, 1947.5, 1968), ("INS", C_INS, 1972, 1992.4), ("DEL", C_DEL, 1996.4, 2017),
                       ("Multi_hit", C_MULTI, 2021, 2041)]:
    R(1593, ya, 1613, yb, col)
    T(1621, (ya + yb) / 2, s, 21.5, color="#111")
T(1594.5, 2077.8, "TMEscore group", 21, bold=True, color="#111")
R(1595, 2095.6, 1616, 2117, C_LOW)
T(1624, 2106.7, "low", 21.5, color="#111")
R(1685, 2096, 1706, 2118, C_HIGH)
T(1713.5, 2107, "high", 21.5, color="#111")
T(1594.5, 2137.8, "Grade", 21, bold=True, color="#111")
for s, col, ya, yb in [("G1", GRADE_COL[1], 2155.6, 2177), ("GX", GRADE_COL[0], 2180, 2201), ("G2", GRADE_COL[2], 2204, 2225),
                       ("G3", GRADE_COL[3], 2228.4, 2250), ("G4", GRADE_COL[4], 2252.4, 2273.8)]:
    R(1595, ya, 1616, yb, col)
    T(1624, (ya + yb) / 2, s, 21.5, color="#111")
T(1594.5, 2295.6, "OS_status", 21, bold=True, color="#111")
for s, col, ya, yb in [("DECEASED", C_DEC, 2313, 2334), ("LIVING", C_LIV, 2337.8, 2358)]:
    R(1595, ya, 1616, yb, col)
    T(1624, (ya + yb) / 2, s, 21.5, color="#111")
T(1594.5, 2380, "Gender", 21, bold=True, color="#111")
for s, col, ya, yb in [("Female", C_F, 2398, 2419.6), ("Male", C_M, 2422, 2443.6)]:
    R(1595, ya, 1616, yb, col)
    T(1624, (ya + yb) / 2, s, 21.5, color="#111")

fig.update_layout(width=W, height=H, margin=dict(l=0, r=0, t=0, b=0), autosize=False, paper_bgcolor="white",
                  plot_bgcolor="rgba(0,0,0,0)", showlegend=False, barmode="overlay", bargap=0, template="none",
                  annotations=annots, shapes=shapes, font=dict(family=ARIAL), **layout_axes)
fig.write_html("out.html", config={"displayModeBar": False},
               post_script="document.body.style.margin='0';document.documentElement.style.overflow='hidden';")
